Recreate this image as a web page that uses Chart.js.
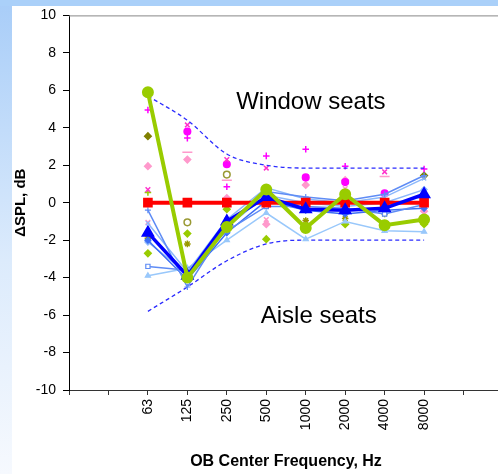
<!DOCTYPE html>
<html>
<head>
<meta charset="utf-8">
<script src="https://cdn.jsdelivr.net/npm/chart.js@4/dist/chart.umd.min.js"></script>
<style>
  html, body { margin: 0; padding: 0; overflow: hidden; }
  #frame {
    position: relative; width: 498px; height: 474px; overflow: hidden;
    background: linear-gradient(to bottom, #a8cdf8 0%, #dcebfc 55%, #f6f9fe 100%);
  }
  #topband { position: absolute; left: 0; top: 0; width: 498px; height: 6px; background: #aad0f9; }
  #panel { position: absolute; left: 12px; top: 6px; right: 0; bottom: 0; background: #fff; }
  #chart { position: absolute; left: 0; top: 0; }
</style>
</head>
<body>
<div id="frame">
  <div id="topband"></div>
  <div id="panel"></div>
  <canvas id="chart" width="511" height="474"></canvas>
</div>
<script>
// octave band centre frequencies
const freqs = ['63', '125', '250', '500', '1000', '2000', '4000', '8000'];
// empty slots either side of the bands
const labels = ['', '', ...freqs, '', ''];

// main lines
const reference = [0, 0, 0, 0, 0, 0, 0, 0];
const greenSeat = [5.9, -4.0, -1.3, 0.7, -1.35, 0.45, -1.2, -0.9];
const blueMean = [-1.6, -3.9, -1.0, 0.3, -0.35, -0.4, -0.3, 0.45];

// thin blue seat lines
const thinA = [-0.4, -4.5, -1.2, 0.6, 0.3, 0.1, 0.45, 1.45];
const thinB = [-1.1, -3.7, -0.9, 0.8, 0.2, 0.0, 0.3, 1.3];
const thinC = [-3.4, -3.6, -1.5, -0.2, -0.2, -0.3, -0.6, -0.1];
const thinD = [-2.0, -4.1, -1.6, 0.1, -0.4, -0.6, -0.4, -0.3];
const thinE = [-3.9, -3.5, -2.0, -0.55, -1.95, -1.0, -1.5, -1.55];
const thinF = [-2.1, -3.8, -1.3, 0.4, 0.0, -0.2, 0.0, 0.7];

// envelope (dashed)
const upperEnv = [5.7, 4.4, 2.6, 2.0, 1.85, 1.85, 1.85, 1.85];
const lowerEnv = [-5.8, -4.5, -3.1, -2.2, -2.0, -2.0, -2.0, -2.0];

// single seat points (no lines)
const magentaPlus = [4.95, 3.45, 0.85, 2.5, 2.85, 1.95, null, 1.8];
const magentaX = [0.7, 4.15, 2.3, 1.85, null, null, 1.65, null];
const magentaDot = [null, 3.8, 2.05, null, 1.35, 1.1, 0.5, null];
const pinkDash = [null, 2.7, 1.2, null, null, null, 1.4, null];
const pinkDiamond = [1.95, 2.3, 0.25, -1.15, 0.95, 1.2, null, -0.45];
const pinkX = [-1.05, null, null, -0.9, null, 0.75, null, -0.35];
const oliveDiamond = [3.55, null, null, null, null, null, null, 1.45];
const oliveCircle = [null, -1.05, 1.5, null, null, null, null, null];
const oliveStar = [-1.9, -2.2, null, null, -0.95, -0.85, -0.6, null];
const limeDiamond = [-2.7, -1.65, -0.35, -1.95, null, -1.15, null, -1.15];
const limePlus = [0.55, null, null, null, null, null, null, null];

const pad = arr => [null, null, ...arr, null, null];

function seatLine(data, style, color, fill) {
  return {
    data: pad(data), borderColor: color, borderWidth: 1.5,
    pointStyle: style, pointRadius: 3, pointBorderColor: color,
    pointBackgroundColor: fill || color, pointBorderWidth: 1.2,
  };
}
function dots(data, style, color, fill, r) {
  return {
    data: pad(data), showLine: false, pointStyle: style, pointRadius: r || 3.3,
    pointBorderColor: color, pointBackgroundColor: fill || color, pointBorderWidth: 1.5,
  };
}
function envelope(data) {
  return {
    data: pad(data), borderColor: '#2b2bff', borderWidth: 1.3, borderDash: [4, 3],
    pointRadius: 0, cubicInterpolationMode: 'monotone',
  };
}

// plot frame top line and the two area labels
const extras = {
  id: 'extras',
  afterDraw(chart) {
    const { ctx, chartArea: a, scales: { x, y } } = chart;
    ctx.save();
    ctx.strokeStyle = '#888';
    ctx.lineWidth = 1;
    ctx.beginPath();
    ctx.moveTo(a.left, a.top + 0.5);
    ctx.lineTo(a.right, a.top + 0.5);
    ctx.stroke();
    ctx.fillStyle = '#000';
    ctx.font = '24px "Liberation Sans", Arial, sans-serif';
    ctx.textAlign = 'center';
    ctx.textBaseline = 'alphabetic';
    ctx.fillText('Window seats', x.getPixelForValue(6.13), y.getPixelForValue(5.0));
    ctx.fillText('Aisle seats', x.getPixelForValue(6.33), y.getPixelForValue(-6.4));
    ctx.restore();
  },
};

const tickFont = { family: '"Liberation Sans", Arial, sans-serif', size: 14 };

new Chart(document.getElementById('chart'), {
  type: 'line',
  plugins: [extras],
  data: {
    labels: labels,
    datasets: [
      { data: pad(greenSeat), borderColor: '#99cc00', borderWidth: 4, pointStyle: 'circle',
        pointRadius: 4, pointBackgroundColor: '#99cc00', pointBorderColor: '#99cc00' },
      { data: pad(blueMean), borderColor: '#0000ff', borderWidth: 3.5, pointStyle: 'triangle',
        pointRadius: 4.5, pointBackgroundColor: '#0000ff', pointBorderColor: '#0000ff' },
      { data: pad(reference), borderColor: '#ff0000', borderWidth: 4, pointStyle: 'rect',
        pointRadius: 4, pointBackgroundColor: '#ff0000', pointBorderColor: '#ff0000' },
      seatLine(thinA, 'cross', '#5f8cf5'),
      seatLine(thinB, 'crossRot', '#8cb8fb'),
      seatLine(thinC, 'rect', '#5f8cf5', '#ffffff'),
      seatLine(thinD, 'rectRot', '#3d6ef5'),
      seatLine(thinE, 'triangle', '#99c8fb'),
      seatLine(thinF, 'rectRot', '#8cb8fb'),
      envelope(upperEnv),
      envelope(lowerEnv),
      dots(magentaPlus, 'cross', '#ff00ff'),
      dots(magentaX, 'crossRot', '#ff33cc'),
      dots(magentaDot, 'circle', '#ff00ff'),
      dots(pinkDash, 'line', '#ff99cc', null, 5),
      dots(pinkDiamond, 'rectRot', '#ff99cc'),
      dots(pinkX, 'crossRot', '#ff99cc'),
      dots(oliveDiamond, 'rectRot', '#808000'),
      dots(oliveCircle, 'circle', '#999933', '#ffffff'),
      dots(oliveStar, 'star', '#999900'),
      dots(limeDiamond, 'rectRot', '#99cc00'),
      dots(limePlus, 'cross', '#99cc00'),
    ],
  },
  options: {
    responsive: false,
    animation: false,
    spanGaps: false,
    layout: { padding: { left: 0, top: 12, right: 3, bottom: 0 } },
    plugins: { legend: { display: false }, tooltip: { enabled: false } },
    scales: {
      x: {
        type: 'category',
        offset: false,
        afterFit: s => { s.height = 84; s.paddingLeft = 0; s.paddingRight = 0; },
        border: { color: '#333', width: 1 },
        grid: { drawOnChartArea: false, drawTicks: true, tickLength: 5, color: '#333' },
        ticks: { autoSkip: false, maxRotation: 90, minRotation: 90, padding: 4, color: '#000', font: tickFont },
        title: {
          display: true, text: 'OB Center Frequency, Hz', color: '#000',
          font: { family: '"Liberation Sans", Arial, sans-serif', size: 16, weight: 'bold' },
          padding: { top: 0, bottom: 3 },
        },
      },
      y: {
        min: -10, max: 10,
        afterFit: s => { s.width = 69; },
        border: { color: '#000', width: 1 },
        grid: { drawOnChartArea: false, drawTicks: true, tickLength: 6, color: '#000' },
        ticks: { stepSize: 2, padding: 7, color: '#000', font: tickFont },
        title: {
          display: true, text: '\u0394SPL, dB', color: '#000',
          font: { family: '"Liberation Sans", Arial, sans-serif', size: 15, weight: 'bold' },
          padding: { top: 12, bottom: 0 },
        },
      },
    },
  },
});
</script>
</body>
</html>
